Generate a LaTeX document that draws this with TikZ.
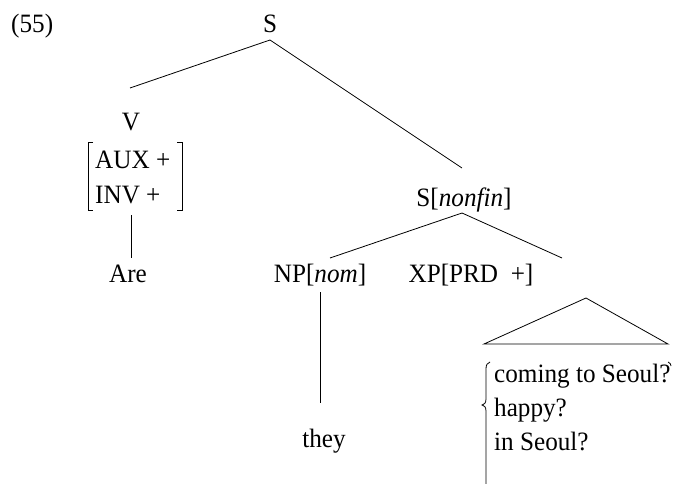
\documentclass[tikz,border=0pt]{standalone}
\usepackage{fontspec}
\setmainfont[FakeStretch=0.95]{Liberation Serif}
\begin{document}
\begin{tikzpicture}[x=1pt,y=-1pt,
  lbl/.style={anchor=base,inner sep=0pt,font=\fontsize{26.5}{30}\selectfont},
  edge/.style={line width=0.8pt}]
\useasboundingbox (0,0) rectangle (674,484);
\clip (0,0) rectangle (674,484);
\node[lbl,anchor=base west] (ex) at (11,33) {(55)};
\node[lbl] (S) at (270,33) {S};
\node[lbl] (V) at (131,130) {V};
\node[lbl,anchor=base west] (aux) at (95,168) {AUX +};
\node[lbl,anchor=base west] (inv) at (95,203) {INV +};
\node[lbl] (Are) at (128,282) {Are};
\node[lbl] (Snf) at (464,206) {S[\textit{nonfin}]};
\node[lbl] (NP) at (320,282) {NP[\textit{nom}]};
\node[lbl] (XP) at (471,282) {XP[PRD\ \ +]};
\node[lbl] (they) at (324,447) {they};
\node[lbl,anchor=base west] (l1) at (494,382) {coming to Seoul?};
\node[lbl,anchor=base west] (l2) at (494,416) {happy?};
\node[lbl,anchor=base west] (l3) at (494,450) {in Seoul?};
% coordinates
\coordinate (Sapex) at (270,40);
\coordinate (Vtop) at (130,88);
\coordinate (Snftop) at (462,168);
\coordinate (Snfapex) at (462,213);
\coordinate (NPtop) at (330,258);
\coordinate (XPtop) at (562,258);
\coordinate (Vbot) at (131,215);
\coordinate (Aretop) at (131,258);
\coordinate (NPbot) at (320,292);
\coordinate (theytop) at (320,403);
\coordinate (tri) at (586,298);
\coordinate (triL) at (484,344);
\coordinate (triR) at (668,344);
% edges
\draw[edge] (Sapex) -- (Vtop);
\draw[edge] (Sapex) -- (Snftop);
\draw[edge] (Snfapex) -- (NPtop);
\draw[edge] (Snfapex) -- (XPtop);
\draw[edge] (Vbot) -- (Aretop);
\draw[edge] (NPbot) -- (theytop);
\draw[edge] (triL) -- (tri) -- (triR) -- cycle;
% brackets
\draw[edge] (93,142) -- (88,142) -- (88,210) -- (93,210);
\draw[edge] (177,142) -- (182,142) -- (182,210) -- (177,210);
% brace
\draw[edge] (490,362) .. controls (487,363) and (486,365) .. (486,369)
  -- (486,399) .. controls (486,403) and (484,405) .. (482,405)
  .. controls (484,405) and (486,407) .. (486,411) -- (486,490);
\draw[edge] (668,362) .. controls (670,363) and (671,364) .. (671,366);
\end{tikzpicture}
\end{document}
